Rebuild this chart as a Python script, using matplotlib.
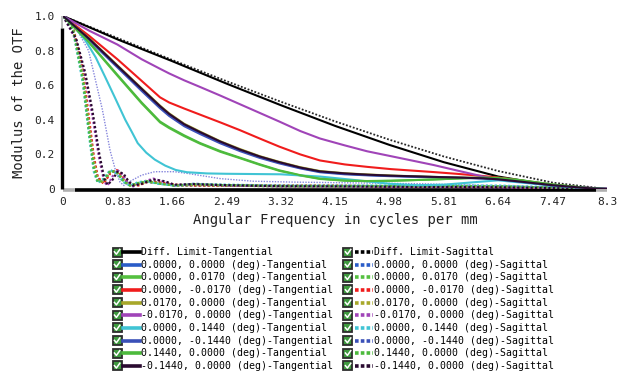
import matplotlib
matplotlib.use("Agg")
import matplotlib.pyplot as plt
from matplotlib.lines import Line2D
from matplotlib.patches import Rectangle

plt.rcParams["font.family"] = ["DejaVu Sans Mono"]

# ---- data (cycles per mm, modulus) ----
ticks_x = [0, 0.83, 1.66, 2.49, 3.32, 4.15, 4.98, 5.81, 6.64, 7.47, 8.3]
ticks_x_lbl = ["0", "0.83", "1.66", "2.49", "3.32", "4.15", "4.98", "5.81", "6.64", "7.47", "8.3"]
ticks_y = [0, 0.2, 0.4, 0.6, 0.8, 1.0]
ticks_y_lbl = ["0", "0.2", "0.4", "0.6", "0.8", "1.0"]

diff_t = [1.0, 0.865, 0.74, 0.61, 0.485, 0.365, 0.255, 0.155, 0.072, 0.02, 0.0]
diff_s = [1.0, 0.873, 0.747, 0.624, 0.505, 0.391, 0.285, 0.188, 0.104, 0.037, 0.0]

# tangential, common frequency grid
xt = [0, 0.4, 0.83, 1.2, 1.48, 1.62, 1.85, 2.09, 2.4, 2.7, 3.0, 3.3, 3.62, 3.92, 4.3, 4.64, 5.0,
      5.65, 6.0, 6.41, 6.64, 7.0, 7.47, 8.0, 8.3]
t_00 = [1, 0.865, 0.71, 0.575, 0.475, 0.43, 0.37, 0.325, 0.27, 0.225, 0.185, 0.152, 0.122, 0.100,
        0.088, 0.081, 0.076, 0.069, 0.066, 0.062, 0.056, 0.042, 0.022, 0.005, 0]
t_0p017 = [1, 0.845, 0.655, 0.495, 0.385, 0.352, 0.305, 0.262, 0.215, 0.178, 0.14, 0.105, 0.078,
           0.058, 0.048, 0.045, 0.047, 0.055, 0.061, 0.067, 0.065, 0.05, 0.026, 0.006, 0]
t_0m017 = [1, 0.885, 0.75, 0.625, 0.53, 0.50, 0.465, 0.43, 0.385, 0.34, 0.292, 0.245, 0.20, 0.165,
           0.142, 0.128, 0.115, 0.098, 0.088, 0.075, 0.066, 0.048, 0.024, 0.005, 0]
t_p017 = [1, 0.87, 0.715, 0.582, 0.482, 0.437, 0.377, 0.332, 0.276, 0.231, 0.19, 0.157, 0.126, 0.104,
          0.091, 0.084, 0.078, 0.07, 0.067, 0.063, 0.057, 0.042, 0.022, 0.005, 0]
t_m017 = [1, 0.915, 0.835, 0.75, 0.695, 0.668, 0.628, 0.59, 0.54, 0.49, 0.44, 0.39, 0.335, 0.292,
          0.252, 0.218, 0.19, 0.139, 0.108, 0.072, 0.056, 0.04, 0.022, 0.007, 0.003]
t_0m144 = [1, 0.86, 0.703, 0.567, 0.467, 0.422, 0.363, 0.318, 0.264, 0.219, 0.18, 0.148, 0.119,
           0.097, 0.085, 0.079, 0.074, 0.068, 0.065, 0.061, 0.055, 0.041, 0.021, 0.005, 0]
t_p144 = [1, 0.848, 0.66, 0.5, 0.39, 0.357, 0.31, 0.266, 0.219, 0.181, 0.143, 0.108, 0.08, 0.06,
          0.049, 0.046, 0.048, 0.055, 0.06, 0.066, 0.064, 0.05, 0.026, 0.006, 0]
t_m144 = [1, 0.868, 0.712, 0.579, 0.479, 0.434, 0.374, 0.329, 0.274, 0.228, 0.188, 0.155, 0.124,
          0.102, 0.09, 0.083, 0.077, 0.07, 0.066, 0.062, 0.056, 0.042, 0.022, 0.005, 0]

x_t_0p144 = [0, 0.15, 0.34, 0.5, 0.64, 0.79, 0.95, 1.05, 1.14, 1.27, 1.40, 1.56, 1.72, 1.89, 2.2, 2.49,
             3.32, 3.92, 4.5, 4.99, 5.4, 5.81, 6.3, 6.64, 7.47, 8.0, 8.3]
t_0p144 = [1, 0.95, 0.86, 0.76, 0.65, 0.53, 0.40, 0.33, 0.265, 0.21, 0.17, 0.135, 0.11, 0.097, 0.09, 0.088,
           0.085, 0.072, 0.05, 0.03, 0.022, 0.025, 0.04, 0.05, 0.02, 0.005, 0]

# sagittal
xs = [0, 0.15, 0.3, 0.4, 0.47, 0.53, 0.62, 0.72, 0.82, 0.92, 1.02, 1.15, 1.28, 1.45, 1.7, 2.0, 2.5,
      3.32, 4.15, 4.98, 5.81, 6.64, 7.47, 8.3]
s_00 = [1, 0.94, 0.68, 0.37, 0.17, 0.06, 0.035, 0.10, 0.105, 0.06, 0.025, 0.025, 0.04, 0.035, 0.02,
        0.02, 0.018, 0.018, 0.016, 0.015, 0.015, 0.012, 0.006, 0]
s_0p017 = [1, 0.93, 0.66, 0.35, 0.15, 0.05, 0.04, 0.10, 0.10, 0.05, 0.02, 0.03, 0.045, 0.035, 0.02,
           0.025, 0.02, 0.015, 0.015, 0.015, 0.015, 0.015, 0.008, 0]
s_0m017 = [1, 0.94, 0.70, 0.40, 0.19, 0.07, 0.03, 0.09, 0.11, 0.07, 0.03, 0.02, 0.04, 0.04, 0.025,
           0.02, 0.02, 0.02, 0.02, 0.015, 0.015, 0.012, 0.006, 0]
s_p017 = [1, 0.935, 0.67, 0.36, 0.16, 0.055, 0.038, 0.10, 0.10, 0.055, 0.022, 0.028, 0.042, 0.035, 0.02,
          0.022, 0.02, 0.016, 0.015, 0.015, 0.014, 0.013, 0.007, 0]
s_0p144 = [1, 0.92, 0.62, 0.30, 0.10, 0.035, 0.06, 0.11, 0.09, 0.04, 0.02, 0.04, 0.045, 0.03, 0.02,
           0.03, 0.025, 0.02, 0.02, 0.02, 0.02, 0.02, 0.01, 0]
s_p144 = [1, 0.925, 0.64, 0.32, 0.12, 0.04, 0.05, 0.105, 0.095, 0.045, 0.02, 0.035, 0.045, 0.032, 0.02,
          0.028, 0.022, 0.018, 0.018, 0.018, 0.018, 0.016, 0.008, 0]

xm = [0, 0.2, 0.34, 0.45, 0.55, 0.63, 0.68, 0.75, 0.83, 0.92, 1.0, 1.07, 1.2, 1.38, 1.55, 1.7, 2.0, 2.5,
      3.32, 4.15, 4.98, 5.81, 6.64, 7.47, 8.3]
s_m017 = [1, 0.86, 0.65, 0.42, 0.18, 0.04, 0.02, 0.07, 0.11, 0.08, 0.03, 0.015, 0.04, 0.06, 0.04, 0.02,
          0.03, 0.02, 0.015, 0.015, 0.012, 0.012, 0.01, 0.005, 0]
s_m144 = [1, 0.87, 0.67, 0.45, 0.21, 0.06, 0.025, 0.05, 0.10, 0.09, 0.045, 0.02, 0.03, 0.055, 0.045, 0.025,
          0.028, 0.022, 0.016, 0.015, 0.013, 0.012, 0.01, 0.005, 0]

xl = [0, 0.2, 0.39, 0.6, 0.72, 0.8, 0.87, 0.93, 1.05, 1.2, 1.4, 1.7, 1.9, 2.4, 2.9, 3.5, 4.5, 5.5, 6.5, 7.5, 8.3]
s_0m144 = [1, 0.93, 0.80, 0.46, 0.22, 0.11, 0.04, 0.02, 0.05, 0.08, 0.10, 0.10, 0.09, 0.06, 0.045, 0.04,
           0.035, 0.03, 0.02, 0.01, 0]

labels_t = ["Diff. Limit-Tangential",
            "0.0000, 0.0000 (deg)-Tangential",
            "0.0000, 0.0170 (deg)-Tangential",
            "0.0000, -0.0170 (deg)-Tangential",
            "0.0170, 0.0000 (deg)-Tangential",
            "-0.0170, 0.0000 (deg)-Tangential",
            "0.0000, 0.1440 (deg)-Tangential",
            "0.0000, -0.1440 (deg)-Tangential",
            "0.1440, 0.0000 (deg)-Tangential",
            "-0.1440, 0.0000 (deg)-Tangential"]
labels_s = [s.replace("Tangential", "Sagittal") for s in labels_t]
colors = ["#000000", "#2a5cc8", "#55c040", "#f01c1c", "#a8a82a", "#a044b8",
          "#40c4d4", "#3a50b8", "#4cba3c", "#2a0a30"]

# ---- figure ----
W, H = 630, 381
fig = plt.figure(figsize=(W / 100, H / 100), dpi=100)
ax = fig.add_axes([63 / W, 1 - 189 / H, 544 / W, 173 / H])
DOT = (0, (1, 1))

t_series = [(ticks_x, diff_t, 0), (xt, t_00, 1), (xt, t_0p017, 2), (xt, t_0m017, 3), (xt, t_p017, 4),
            (xt, t_m017, 5), (x_t_0p144, t_0p144, 6), (xt, t_0m144, 7), (xt, t_p144, 8), (xt, t_m144, 9)]
s_series = [(ticks_x, diff_s, 0), (xs, s_00, 1), (xs, s_0p017, 2), (xs, s_0m017, 3), (xs, s_p017, 4),
            (xm, s_m017, 5), (xs, s_0p144, 6), (xl, s_0m144, 7), (xs, s_p144, 8), (xm, s_m144, 9)]

for x, y, i in s_series:
    c = {0: "#262626", 7: "#8686dc"}.get(i, colors[i])
    ax.plot(x, y, color=c, lw={0: 1.3, 7: 1.0}.get(i, 1.6), ls=DOT, zorder=2)
for x, y, i in t_series:
    ax.plot(x, y, color=colors[i], lw=1.5, zorder=3)

ax.set_xlim(0, 8.3)
ax.set_ylim(0, 1.0)
ax.set_xticks(ticks_x)
ax.set_xticklabels(ticks_x_lbl)
ax.set_yticks(ticks_y)
ax.set_yticklabels(ticks_y_lbl)
ax.tick_params(length=0, labelsize=8, colors="#222222", pad=6)
for sp in ax.spines.values():
    sp.set_visible(False)

# axis bars: black with grey ends
kw = dict(transform=ax.transAxes, clip_on=False, solid_capstyle="butt", zorder=1)
ax.plot([0.022, 0.98], [-0.005, -0.005], color="black", lw=2.6, **kw)
ax.plot([0, 0.022], [-0.005, -0.005], color="#b0b0b0", lw=2.6, **kw)
ax.plot([0.98, 1.0], [-0.005, -0.005], color="#b0b0b0", lw=2.6, **kw)
ax.plot([-0.002, -0.002], [0.0, 0.93], color="black", lw=2.4, **kw)
ax.plot([-0.002, -0.002], [0.93, 1.0], color="#b0b0b0", lw=1.2, **kw)

ax.set_xlabel("Angular Frequency in cycles per mm", fontsize=10, color="#222222", labelpad=4)
ax.set_ylabel("Modulus of the OTF", fontsize=10, color="#222222", labelpad=6)

# ---- legend with check boxes ----
def fx(px):
    return px / W

def fy(py):
    return 1 - py / H

def checkbox(cx, cy):
    s = 9
    fig.add_artist(Rectangle((fx(cx - s / 2), fy(cy + s / 2)), s / W, s / H, transform=fig.transFigure,
                             fc="#3f9a3f", ec="#2d2d2d", lw=1.3))
    fig.add_artist(Line2D([fx(cx - 2.6), fx(cx - 0.6), fx(cx + 2.8)],
                          [fy(cy - 0.2), fy(cy + 2.2), fy(cy - 2.6)],
                          transform=fig.transFigure, color="white", lw=1.1))

row0, dy = 252.0, 12.65
for k in range(10):
    cy = row0 + k * dy
    checkbox(117, cy)
    fig.add_artist(Line2D([fx(123), fx(140)], [fy(cy), fy(cy)], transform=fig.transFigure,
                          color=colors[k], lw=2.6))
    fig.text(fx(141), fy(cy), labels_t[k], fontsize=7.1, color="black", va="center", ha="left")
    checkbox(348, cy)
    fig.add_artist(Line2D([fx(355), fx(373)], [fy(cy), fy(cy)], transform=fig.transFigure,
                          color=colors[k], lw=2.6, ls=(0, (1, 0.6))))
    fig.text(fx(374), fy(cy), labels_s[k], fontsize=7.1, color="black", va="center", ha="left")

fig.savefig("out.png", dpi=100)
